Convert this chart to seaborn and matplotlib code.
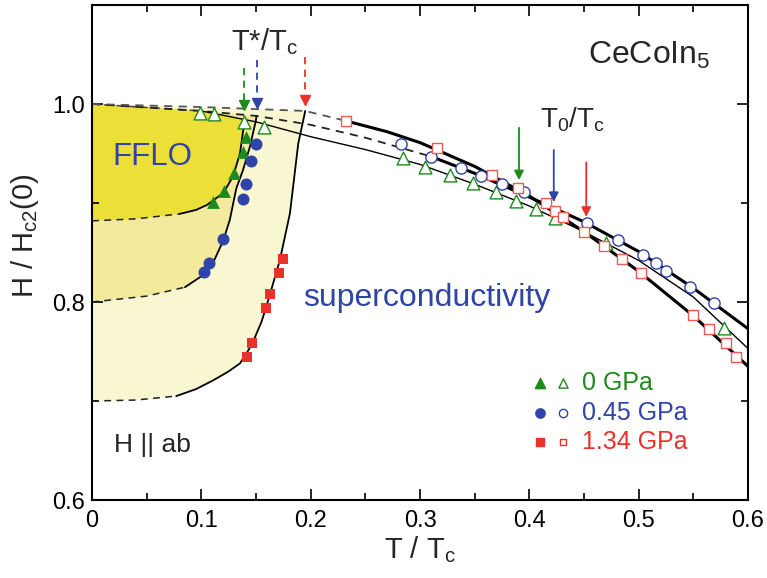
import matplotlib
matplotlib.use("Agg")
import matplotlib.pyplot as plt
import numpy as np
import pandas as pd
import seaborn as sns

sns.set_theme(style="ticks")
plt.rcParams["font.family"] = ["Liberation Sans", "DejaVu Sans"]
plt.rcParams["mathtext.default"] = "regular"

GREEN = "#1E8A1E"
BLUE = "#2F43A8"
RED = "#E8322B"
Y_BRIGHT = "#ECDF38"
Y_MID = "#F3EA9E"
Y_PALE = "#F9F7D2"

# ---------------- data ----------------
# open symbols: H_c2 (upper critical field)
g_open_T = [0.0987, 0.1115, 0.139, 0.1575, 0.2846, 0.3041, 0.3272, 0.348, 0.3693,
            0.3882, 0.4065, 0.4232, 0.4698, 0.578]
g_open_H = [0.9906, 0.9896, 0.982, 0.9765, 0.9451, 0.9367, 0.9283, 0.920, 0.9108,
            0.9023, 0.894, 0.8852, 0.8593, 0.774]
b_open_T = [0.2822, 0.3096, 0.337, 0.3562, 0.375, 0.3949, 0.4531, 0.4811, 0.504,
            0.5162, 0.5253, 0.5472, 0.5686]
b_open_H = [0.9593, 0.9468, 0.935, 0.9273, 0.9192, 0.9108, 0.8795, 0.8626, 0.8475,
            0.8397, 0.8313, 0.8155, 0.7993]
r_open_T = [0.2322, 0.3151, 0.3662, 0.3897, 0.415, 0.4232, 0.4311, 0.4497, 0.468,
            0.4851, 0.5025, 0.5496, 0.5643, 0.5802, 0.5893]
r_open_H = [0.9832, 0.9553, 0.9283, 0.9148, 0.9003, 0.892, 0.8855, 0.871, 0.8566,
            0.8431, 0.829, 0.7869, 0.7727, 0.7589, 0.7448]

# filled symbols: T* (FFLO boundary)
g_fill_T = [0.1405, 0.1383, 0.1301, 0.1207, 0.1109]
g_fill_H = [0.967, 0.9518, 0.9306, 0.9124, 0.901]
b_fill_T = [0.1499, 0.1453, 0.1405, 0.1383, 0.1195, 0.1073, 0.1024]
b_fill_H = [0.9593, 0.9427, 0.9192, 0.9037, 0.8633, 0.8391, 0.8306]
r_fill_T = [0.1743, 0.1712, 0.1627, 0.159, 0.146, 0.1414]
r_fill_H = [0.8431, 0.829, 0.8081, 0.7936, 0.7589, 0.7448]

# H_c2 curves (dashed low-T part, solid part)
g_hc2_dash_T = [0.0, 0.1]
g_hc2_dash_H = [1.0, 0.993]
g_hc2_T = [0.1, 0.15, 0.2, 0.25, 0.3, 0.35, 0.4, 0.45, 0.5, 0.55, 0.6]
g_hc2_H = [0.993, 0.982, 0.967, 0.954, 0.939, 0.919, 0.897, 0.871, 0.842, 0.805, 0.753]
b_hc2_dash_T = [0.0, 0.1, 0.15, 0.2, 0.25, 0.31]
b_hc2_dash_H = [1.0, 0.993, 0.988, 0.979, 0.966, 0.947]
b_hc2_T = [0.31, 0.35, 0.40, 0.45, 0.50, 0.55, 0.60]
b_hc2_H = [0.947, 0.930, 0.906, 0.881, 0.851, 0.814, 0.773]
r_hc2_dash_T = [0.0, 0.1, 0.195, 0.232]
r_hc2_dash_H = [1.0, 0.997, 0.993, 0.983]
r_hc2_T = [0.232, 0.27, 0.3, 0.35, 0.4, 0.45, 0.5, 0.55, 0.6]
r_hc2_H = [0.983, 0.972, 0.961, 0.937, 0.907, 0.871, 0.831, 0.786, 0.735]

# T* boundaries (dashed low-T part, solid part)
g_bd_dash_T = [0.0, 0.04, 0.08]
g_bd_dash_H = [0.882, 0.884, 0.889]
g_bd_T = [0.08, 0.095, 0.105, 0.12, 0.129, 0.1353, 0.1383, 0.1395]
g_bd_H = [0.889, 0.893, 0.898, 0.91, 0.927, 0.950, 0.9737, 0.984]
b_bd_dash_T = [0.0, 0.05, 0.085]
b_bd_dash_H = [0.800, 0.806, 0.815]
b_bd_T = [0.085, 0.1, 0.11, 0.12, 0.126, 0.132, 0.138, 0.1444, 0.1496, 0.1505]
b_bd_H = [0.815, 0.826, 0.838, 0.862, 0.883, 0.915, 0.933, 0.957, 0.982, 0.988]
r_bd_dash_T = [0.0, 0.04, 0.077]
r_bd_dash_H = [0.700, 0.701, 0.705]
r_bd_T = [0.077, 0.095, 0.111, 0.125, 0.1353, 0.146, 0.155, 0.1612, 0.1718, 0.181,
          0.1886, 0.195]
r_bd_H = [0.705, 0.712, 0.721, 0.730, 0.738, 0.7566, 0.780, 0.802, 0.8424, 0.8896,
          0.960, 0.993]

# arrows
tstar_T = [0.139, 0.1505, 0.195]
tstar_top = [1.036, 1.044, 1.048]
tstar_tip = [0.994, 0.996, 0.999]
t0_T = [0.3905, 0.4223, 0.452]
t0_top = [0.976, 0.9535, 0.941]
t0_tip = [0.923, 0.901, 0.886]

legend_labels = ["0 GPa", "0.45 GPa", "1.34 GPa"]
legend_H = [0.7182, 0.6879, 0.6586]
legend_T = [0.4095, 0.4305, 0.448]

x_ticks = [0.0, 0.1, 0.2, 0.3, 0.4, 0.5, 0.6]
y_ticks = [0.6, 0.8, 1.0]

colors = [GREEN, BLUE, RED]

# ---------------- figure ----------------
fig = plt.figure(figsize=(7.67, 5.78), dpi=100)
ax = fig.add_axes([0.1200, 0.1349, 0.8553, 0.8564])
ax.set_xlim(0, 0.6)
ax.set_ylim(0.6, 1.1)

# shaded regions
ax.fill(r_bd_dash_T + r_bd_T + r_hc2_dash_T[1::-1],
        r_bd_dash_H + r_bd_H + r_hc2_dash_H[1::-1], color=Y_PALE, lw=0, zorder=0)
ax.fill(b_bd_dash_T + b_bd_T + b_hc2_dash_T[1::-1],
        b_bd_dash_H + b_bd_H + b_hc2_dash_H[1::-1], color=Y_MID, lw=0, zorder=0)
ax.fill(g_bd_dash_T + g_bd_T + g_hc2_dash_T[::-1],
        g_bd_dash_H + g_bd_H + g_hc2_dash_H[::-1], color=Y_BRIGHT, lw=0, zorder=0)


def line(T, H, lw, ls="-", color="black", z=2):
    df = pd.DataFrame({"T": T, "H": H})
    sns.lineplot(data=df, x="T", y="H", sort=False, estimator=None, ax=ax,
                 color=color, lw=lw, linestyle=ls, zorder=z)


DASH = (0, (4.5, 3.5))
# H_c2 lines
line(g_hc2_dash_T, g_hc2_dash_H, 1.1, DASH, "#444444")
line(b_hc2_dash_T, b_hc2_dash_H, 1.3, DASH, "#222222")
line(r_hc2_dash_T, r_hc2_dash_H, 1.3, DASH, "#555555")
line(g_hc2_T, g_hc2_H, 1.0)
line(b_hc2_T, b_hc2_H, 2.2)
line(r_hc2_T, r_hc2_H, 2.2)
# T* boundaries
for dT, dH, sT, sH in [(g_bd_dash_T, g_bd_dash_H, g_bd_T, g_bd_H),
                       (b_bd_dash_T, b_bd_dash_H, b_bd_T, b_bd_H),
                       (r_bd_dash_T, r_bd_dash_H, r_bd_T, r_bd_H)]:
    line(dT, dH, 1.1, DASH, "#222222")
    line(sT, sH, 1.3)

# symbols
def scat(T, H, marker, s, fc, ec, lw=1.0, z=4):
    df = pd.DataFrame({"T": T, "H": H})
    sns.scatterplot(data=df, x="T", y="H", marker=marker, s=s, color=fc,
                    edgecolor=ec, linewidth=lw, ax=ax, zorder=z)


scat(g_open_T, g_open_H, "^", 85, "white", GREEN)
scat(b_open_T, b_open_H, "o", 65, "white", BLUE)
scat(r_open_T, r_open_H, "s", 48, "white", "#EE5A55")
scat(g_fill_T, g_fill_H, "^", 85, GREEN, GREEN, 0)
scat(b_fill_T, b_fill_H, "o", 75, BLUE, BLUE, 0)
scat(r_fill_T, r_fill_H, "s", 45, RED, RED, 0)

# T* arrows (dashed)
for T, top, tip, c in zip(tstar_T, tstar_top, tstar_tip, colors):
    ax.plot([T, T], [top, tip + 0.008], color=c, lw=1.3, ls=(0, (4, 3)), zorder=5)
    ax.plot([T], [tip + 0.005], marker="v", ms=7, color=c, mec=c, zorder=5)

# T0 arrows (solid)
for T, top, tip, c in zip(t0_T, t0_top, t0_tip, colors):
    ax.annotate("", xy=(T, tip), xytext=(T, top),
                arrowprops=dict(arrowstyle="-|>", color=c, lw=1.3,
                                mutation_scale=14, shrinkA=0, shrinkB=0),
                zorder=5)

# legend (hand-made)
lg_mk = [("^", 55), ("o", 45), ("s", 30)]
for (m, s), c, h, lab in zip(lg_mk, colors, legend_H, legend_labels):
    ax.scatter([legend_T[0]], [h], marker=m, s=s, color=c, zorder=6)
    ax.scatter([legend_T[1]], [h], marker=m, s=s * 0.8, facecolor="white",
               edgecolor=c, linewidth=1.0, zorder=6)
    ax.text(legend_T[2], h, lab, color=c, fontsize=18, va="center", ha="left")

# annotations
ax.text(0.158, 1.063, "T*/T$_c$", fontsize=21, ha="center", va="center")
ax.text(0.510, 1.049, "CeCoIn$_5$", fontsize=23, ha="center", va="center")
ax.text(0.439, 0.984, "T$_0$/T$_c$", fontsize=20, ha="center", va="center")
ax.text(0.0548, 0.9465, "FFLO", fontsize=22.5, color=BLUE, ha="center", va="center")
ax.text(0.306, 0.8045, "superconductivity", fontsize=23, color=BLUE,
        ha="center", va="center")
ax.text(0.055, 0.6556, "H || ab", fontsize=19, ha="center", va="center")

# axes styling
ax.set_xticks(x_ticks)
ax.set_xticklabels(["0" if v == 0 else f"{v:.1f}" for v in x_ticks])
ax.set_yticks(y_ticks)
ax.set_yticklabels([f"{v:.1f}" for v in y_ticks])
ax.set_xticks(np.arange(0.05, 0.6, 0.1), minor=True)
ax.set_yticks([0.7, 0.9], minor=True)
ax.tick_params(which="both", direction="in", top=True, right=True, width=1.2,
               labelsize=17, colors="black")
ax.tick_params(which="major", length=8)
ax.tick_params(which="minor", length=5)
ax.tick_params(axis="x", pad=7)
ax.tick_params(axis="y", pad=5)
for sp in ax.spines.values():
    sp.set_linewidth(1.5)
    sp.set_color("black")
ax.set_xlabel("T / T$_c$", fontsize=21, labelpad=2)
ax.set_ylabel("H / H$_{c2}$(0)", fontsize=21)
ax.yaxis.set_label_coords(-0.078, 0.535)

fig.savefig("out.png", dpi=100)
